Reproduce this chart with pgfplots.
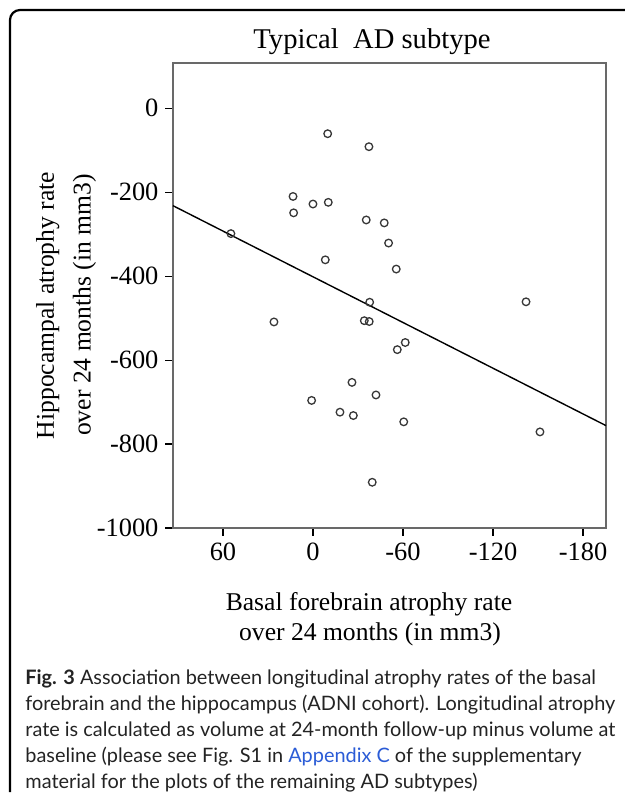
\documentclass[border=0pt]{standalone}
\usepackage{pgfplots}
\pgfplotsset{compat=1.18}
\usepackage{fontspec}
\setmainfont{Liberation Serif}
\newfontfamily\capfont{Lato}
\definecolor{linkblue}{RGB}{43,92,214}
\definecolor{axgray}{RGB}{105,105,105}
\definecolor{ptgray}{RGB}{55,55,55}
\definecolor{captext}{RGB}{35,35,35}
\begin{document}
\begin{tikzpicture}
\path[use as bounding box] (0,0) rectangle (312.5pt,-396.5pt);
\draw[line width=1.1pt, rounded corners=5pt] (5pt,-396pt) -- (5pt,-5pt) -- (314pt,-5pt);
\node[anchor=base, font=\fontsize{14.3}{16}\selectfont, inner sep=0] at (186pt,-24pt) {Typical\ \ AD subtype};
\node[rotate=90, anchor=base, font=\fontsize{12.8}{14}\selectfont, inner sep=0] at (27pt,-152.75pt) {Hippocampal atrophy rate};
\node[rotate=90, anchor=base, font=\fontsize{12.8}{14}\selectfont, inner sep=0] at (45.25pt,-152.5pt) {over 24 months (in mm3)};
\node[anchor=base, font=\fontsize{12.8}{14}\selectfont, inner sep=0] at (184.5pt,-305.35pt) {Basal forebrain atrophy rate};
\node[anchor=base, font=\fontsize{12.8}{14}\selectfont, inner sep=0] at (185pt,-320pt) {over 24 months (in mm3)};
\begin{axis}[
  at={(86.5pt,-264pt)}, anchor=south west,
  scale only axis, width=216.5pt, height=232.5pt,
  xmin=-195.3, xmax=93.3, ymin=-1000, ymax=108,
  x dir=reverse,
  xtick={60,0,-60,-120,-180}, xticklabels={60,0,-60,-120,-180},
  ytick={0,-200,-400,-600,-800,-1000}, yticklabels={0,-200,-400,-600,-800,-1000},
  tick pos=left, tick align=outside, major tick length=3.75pt,
  ticklabel style={font=\fontsize{13.2}{14}\selectfont},
  axis line style={axgray, line width=0.7pt},
  tick style={black, line width=0.6pt},
  clip=false]
\addplot[only marks, mark=o, mark size=1.9pt, mark options={ptgray, line width=0.65pt}] coordinates {
(-9.8,-60.5) (-37.3,-91.4) (13.3,-210) (12.9,-249) (0,-228) (-10.2,-224)
(-35.5,-266) (-47.5,-273) (-50.4,-321) (54.7,-298.5) (-8.2,-361) (-55.5,-383)
(-37.8,-462) (-142,-461) (26,-509) (-34.2,-506) (-37.5,-508) (-61.5,-558)
(-56.2,-575) (-26,-653) (-42,-683) (0.9,-696) (-18,-724) (-26.9,-732)
(-60.5,-747) (-151.3,-771) (-39.5,-891)
};
\addplot[black, line width=0.7pt] coordinates {(93.3,-232) (-195.3,-756)};
\end{axis}
\begin{scope}[every node/.style={anchor=base west, inner sep=0, font=\capfont\fontsize{9.95}{13}\selectfont, text=captext}]
\node at (12.5pt,-342pt) {\textbf{Fig. 3} Association between longitudinal atrophy rates of the basal};
\node at (12.5pt,-355pt) {forebrain and the hippocampus (ADNI cohort). Longitudinal atrophy};
\node at (12.5pt,-368pt) {rate is calculated as volume at 24-month follow-up minus volume at};
\node at (12.5pt,-381pt) {baseline (please see Fig. S1 in \textcolor{linkblue}{Appendix C} of the supplementary};
\node at (12.5pt,-394pt) {material for the plots of the remaining AD subtypes)};
\end{scope}
\end{tikzpicture}
\end{document}
